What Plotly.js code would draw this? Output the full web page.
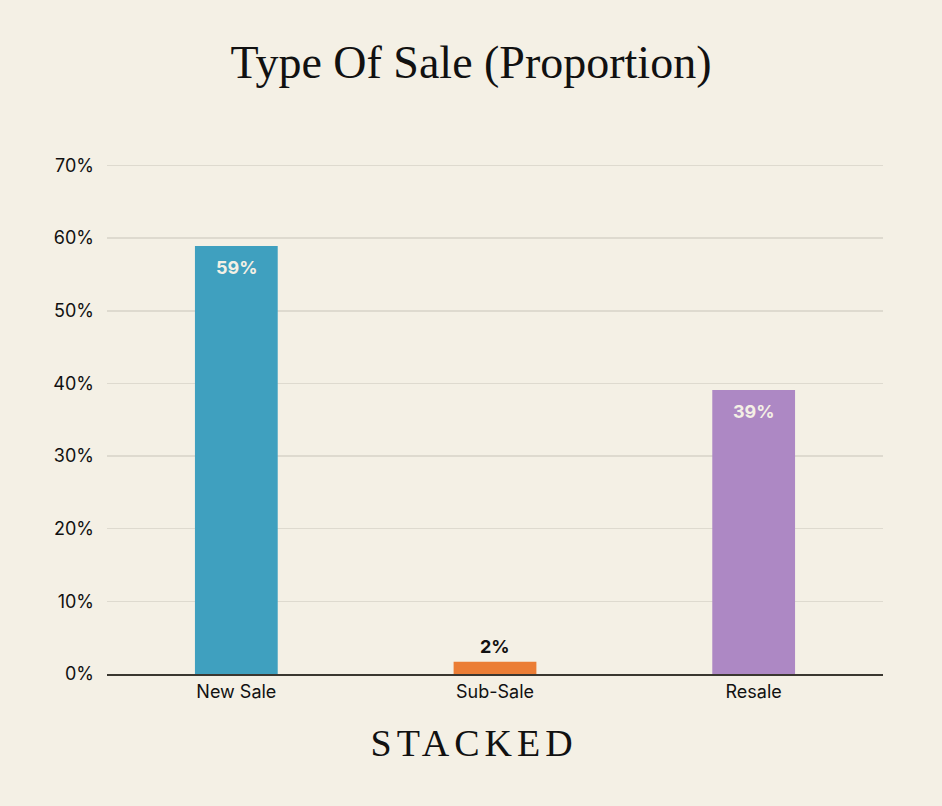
<!DOCTYPE html>
<html>
<head>
<meta charset="utf-8">
<script src="https://cdn.plot.ly/plotly-3.0.1.min.js"></script>
<style>
  body { margin: 0; background: #f4f0e5; }
  #chart { width: 942px; height: 806px; }
  .annotation.brand .annotation-text { letter-spacing: 5px; }
</style>
</head>
<body>
<div id="chart"></div>
<script>
// type of sale shares (%)
const categories = ['New Sale', 'Sub-Sale', 'Resale'];
const shares = [58.9, 1.7, 39.1];
const shareLabels = ['59%', '2%', '39%'];
const labelInside = [true, false, true];
const barColors = ['#3fa0bf', '#eb7d35', '#ad88c4'];
const tickValues = [0, 10, 20, 30, 40, 50, 60, 70];
const tickLabels = ['0%', '10%', '20%', '30%', '40%', '50%', '60%', '70%'];

const bg = '#f4f0e5';

const trace = {
  x: categories,
  y: shares,
  type: 'bar',
  width: 0.32,
  marker: { color: barColors },
  hoverinfo: 'none'
};

// value labels, white inside the tall bars, black above the small one
const labelNotes = categories.map(function (c, i) {
  return {
    x: c, y: shares[i],
    xref: 'x', yref: 'y',
    text: '<b>' + shareLabels[i] + '</b>',
    showarrow: false,
    yanchor: labelInside[i] ? 'top' : 'bottom',
    yshift: labelInside[i] ? -9 : 3,
    font: { family: 'Inter, sans-serif', size: 18, color: labelInside[i] ? bg : '#111' }
  };
});

const layout = {
  width: 942,
  height: 806,
  paper_bgcolor: bg,
  plot_bgcolor: bg,
  margin: { l: 107, r: 59, t: 164, b: 132 },
  showlegend: false,
  title: {
    text: 'Type Of Sale (Proportion)',
    font: { family: 'Liberation Serif, serif', size: 46, color: '#111' },
    x: 0.5,
    xanchor: 'center',
    y: 1 - 62 / 806,
    yanchor: 'middle'
  },
  font: { family: 'Inter, sans-serif', size: 18, color: '#111' },
  xaxis: {
    showgrid: false,
    showline: true,
    linecolor: '#3a3730',
    linewidth: 2,
    ticks: '',
    tickfont: { size: 18 }
  },
  yaxis: {
    range: [0, 70.2],
    tickvals: tickValues,
    ticktext: tickLabels,
    showgrid: true,
    gridcolor: '#dedacf',
    gridwidth: 1.5,
    zeroline: false,
    ticks: '',
    ticklabelstandoff: 12,
    tickfont: { size: 18 }
  },
  annotations: labelNotes.concat([{
    text: 'STACKED',
    xref: 'paper', yref: 'paper',
    x: (474 - 107) / 776, y: -(743 - 674) / 510,
    xanchor: 'center', yanchor: 'middle',
    showarrow: false,
    font: { family: 'Liberation Serif, serif', size: 38, color: '#111' }
  }])
};

Plotly.newPlot('chart', [trace], layout, { displayModeBar: false, staticPlot: true }).then(function () {
  // letter spacing for the brand mark only
  const notes = document.querySelectorAll('.annotation');
  notes[notes.length - 1].classList.add('brand');
});
</script>
</body>
</html>
